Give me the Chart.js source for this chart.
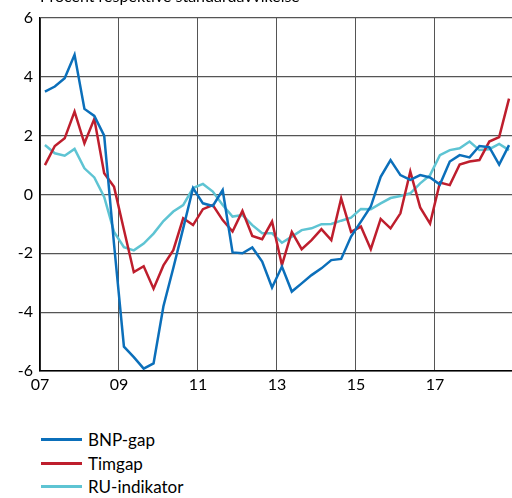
<!DOCTYPE html>
<html>
<head>
<meta charset="utf-8">
<script src="https://cdn.jsdelivr.net/npm/chart.js@4/dist/chart.umd.min.js"></script>
<style>
  html, body { margin: 0; padding: 0; background: #fff; }
  body { width: 512px; height: 498px; overflow: hidden; position: relative; font-family: Lato, "Open Sans", sans-serif; }
  #wrap { position: absolute; left: 0; top: 0; width: 512px; height: 400px; }
  #legend { position: absolute; left: 41px; top: 428px; }
  .li { display: flex; align-items: center; height: 23.5px; font-size: 17px; color: #000; }
  .li span.sw { display: inline-block; width: 41px; height: 3px; margin-right: 6px; }
</style>
</head>
<body>
<div id="wrap"><canvas id="c"></canvas></div>
<div id="legend"></div>
<script>
// kvartal 2007K1 – 2018K4
const YEARS = [2007, 2008, 2009, 2010, 2011, 2012, 2013, 2014, 2015, 2016, 2017, 2018];
const X_TICKS = [2007, 2009, 2011, 2013, 2015, 2017];
const Y_TICKS = [-6, -4, -2, 0, 2, 4, 6];

const BNP_GAP = [3.5, 3.67, 3.95, 4.75, 2.91, 2.67, 2.0, -1.7,
  -5.17, -5.53, -5.92, -5.74, -3.8, -2.5, -1.15, 0.22,
  -0.3, -0.39, 0.15, -1.97, -2.0, -1.8, -2.28, -3.16,
  -2.45, -3.3, -3.02, -2.74, -2.51, -2.23, -2.19, -1.43,
  -0.92, -0.41, 0.6, 1.17, 0.66, 0.5, 0.66, 0.58,
  0.34, 1.12, 1.34, 1.26, 1.65, 1.61, 1.02, 1.68];

const TIMGAP = [1.0, 1.65, 1.91, 2.82, 1.74, 2.57, 0.72, 0.26,
  -1.2, -2.64, -2.44, -3.2, -2.41, -1.89, -0.81, -1.04,
  -0.5, -0.36, -0.87, -1.26, -0.56, -1.41, -1.52, -0.92,
  -2.4, -1.27, -1.86, -1.55, -1.18, -1.55, -0.13, -1.27,
  -1.09, -1.86, -0.83, -1.15, -0.64, 0.78, -0.44, -0.99,
  0.41, 0.32, 1.02, 1.12, 1.17, 1.8, 1.95, 3.26];

const RU_IND = [1.68, 1.40, 1.32, 1.55, 0.89, 0.58, -0.08, -1.27,
  -1.79, -1.9, -1.67, -1.33, -0.9, -0.58, -0.36, 0.22,
  0.36, 0.1, -0.36, -0.75, -0.7, -1.04, -1.32, -1.32,
  -1.64, -1.43, -1.21, -1.15, -1.01, -1.0, -0.89, -0.79,
  -0.49, -0.5, -0.3, -0.12, -0.05, 0.04, 0.38, 0.66,
  1.34, 1.51, 1.57, 1.8, 1.51, 1.54, 1.72, 1.51];

// mitt i varje kvartal
const xs = [];
YEARS.forEach(y => { for (let q = 1; q <= 4; q++) xs.push(y + (q - 0.5) / 4); });
const pts = arr => arr.map((v, i) => ({ x: xs[i], y: v }));

const SERIES = [
  { label: 'BNP-gap',     data: BNP_GAP, color: '#0b6fba' },
  { label: 'Timgap',      data: TIMGAP,  color: '#be1e2d' },
  { label: 'RU-indikator', data: RU_IND, color: '#5ec4d3' },
];

const FONT = { family: 'Lato, "Open Sans", sans-serif', size: 16 };

const titlePlugin = {
  id: 'topTitle',
  afterDraw(chart) {
    const ctx = chart.ctx;
    ctx.save();
    ctx.font = '16px ' + FONT.family;
    ctx.fillStyle = '#000';
    ctx.textBaseline = 'alphabetic';
    ctx.fillText('Procent respektive standardavvikelse', 40, 2);
    ctx.restore();
  }
};

new Chart(document.getElementById('c'), {
  type: 'line',
  data: {
    datasets: SERIES.map(s => ({
      label: s.label,
      data: pts(s.data),
      borderColor: s.color,
      backgroundColor: s.color,
      borderWidth: 2.5,
      pointRadius: 0,
      tension: 0,
    })),
  },
  options: {
    responsive: true, maintainAspectRatio: false, animation: false,
    layout: { padding: { top: 18, left: 0, right: 0, bottom: 0 } },
    plugins: { legend: { display: false }, tooltip: { enabled: false } },
    scales: {
      x: {
        type: 'linear', min: 2007, max: 2018.95,
        afterBuildTicks: sc => { sc.ticks = X_TICKS.map(v => ({ value: v })); },
        afterFit: sc => { sc.height = 29; },
        grid: { color: '#555', lineWidth: 1, drawTicks: false },
        border: { color: '#000', width: 1.5 },
        ticks: { color: '#000', font: FONT, padding: 4, maxRotation: 0, callback: v => String(v % 100).padStart(2, '0') },
      },
      y: {
        min: -6, max: 6,
        afterBuildTicks: sc => { sc.ticks = Y_TICKS.map(v => ({ value: v })); },
        afterFit: sc => { sc.width = 40; },
        grid: { color: '#555', lineWidth: 1.3, drawTicks: false },
        border: { color: '#000', width: 1.5 },
        ticks: { color: '#000', font: FONT, padding: 7 },
      },
    },
  },
  plugins: [titlePlugin],
});

document.getElementById('legend').innerHTML = SERIES.map(s =>
  `<div class="li"><span class="sw" style="background:${s.color}"></span>${s.label}</div>`
).join('');
</script>
</body>
</html>
